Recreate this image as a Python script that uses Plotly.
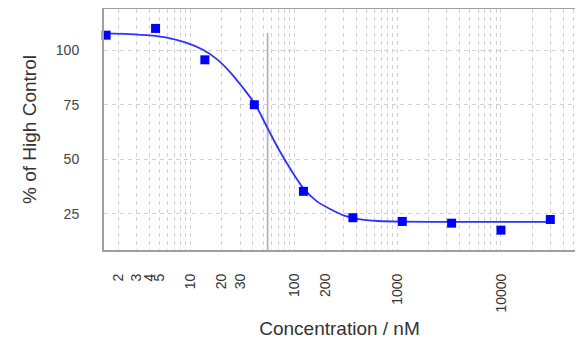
import math
import plotly.graph_objects as go

# ---- data ----
conc_nM = [1.52, 4.57, 13.7, 41.2, 123, 370, 1111, 3333, 10000, 30000]
pct_high_control = [106.9, 110.0, 95.6, 75.0, 35.3, 23.2, 21.5, 20.7, 17.5, 22.4]

fit_conc = [1.5, 2.5, 4, 6, 9, 13, 18, 24, 32, 42, 55, 72, 95, 125, 165, 220,
            300, 420, 650, 1100, 3000, 30000]
fit_pct = [107.7, 107.4, 106.8, 105.7, 103.5, 100.3, 95.8, 90.0, 82.8, 75.2, 64.5, 54.0,
           44.5, 36.3, 30.8, 27.3, 24.3, 22.6, 21.7, 21.4, 21.3, 21.3]

ic50_nM = 55.4
ic50_line_pct = [108.0, 0.0]

x_tickvals = [2, 3, 4, 5, 10, 20, 30, 100, 200, 1000, 10000]
x_ticktext = ["2", "3", "4", "5", "10", "20", "30", "100", "200", "1000", "10000"]
y_tickvals = [25, 50, 75, 100]

x_range_nM = [1.45, 52000]
y_range = [8.4, 118.9]

# ---- figure ----
fig = go.Figure()

fig.add_trace(go.Scatter(
    x=[ic50_nM, ic50_nM], y=ic50_line_pct, mode="lines",
    line=dict(color="#b4b4b4", width=1.8), hoverinfo="skip", showlegend=False))

fig.add_trace(go.Scatter(
    x=fit_conc, y=fit_pct, mode="lines",
    line=dict(color="#3030ff", width=1.8, shape="spline", smoothing=0.8),
    showlegend=False))

fig.add_trace(go.Scatter(
    x=conc_nM, y=pct_high_control, mode="markers",
    marker=dict(symbol="square", size=9, color="#0000ff", line=dict(width=0)),
    showlegend=False, cliponaxis=False))

grid_style = dict(gridcolor="#d0d0d0", gridwidth=1, griddash="4px,4px")

# the page body adds an 8px margin, so the figure is 8px smaller than the window
fig.update_layout(
    width=575, height=333,
    margin=dict(l=96, r=8, t=1, b=91),
    paper_bgcolor="white", plot_bgcolor="white",
    font=dict(family="Liberation Sans, Arial, sans-serif", size=12, color="#333333"),
    xaxis=dict(
        type="log", automargin=False,
        range=[math.log10(x_range_nM[0]), math.log10(x_range_nM[1])],
        tickmode="array", tickvals=x_tickvals, ticktext=x_ticktext,
        tickangle=-90, ticks="", ticklabelstandoff=16,
        showgrid=True, **grid_style,
        minor=dict(dtick="D1", showgrid=True, ticks="", **grid_style),
        showline=True, linecolor="#a0a0a0", linewidth=2, mirror=True,
        zeroline=False,
        title=dict(text="Concentration / nM",
                   font=dict(family="Liberation Sans, Arial, sans-serif", size=19, color="#333333"),
                   standoff=10),
        tickfont=dict(family="Liberation Sans, Arial, sans-serif", size=14, color="#333333"),
    ),
    yaxis=dict(
        range=y_range, automargin=False,
        tickmode="array", tickvals=y_tickvals,
        ticks="", ticklabelstandoff=20,
        showgrid=True, **grid_style,
        showline=True, linecolor="#a0a0a0", linewidth=2, mirror=True,
        zeroline=False,
        title=dict(text="% of High Control",
                   font=dict(family="Liberation Sans, Arial, sans-serif", size=19, color="#333333"),
                   standoff=14),
        tickfont=dict(family="Liberation Sans, Arial, sans-serif", size=14, color="#444444"),
    ),
)

fig.write_html("out.html")
